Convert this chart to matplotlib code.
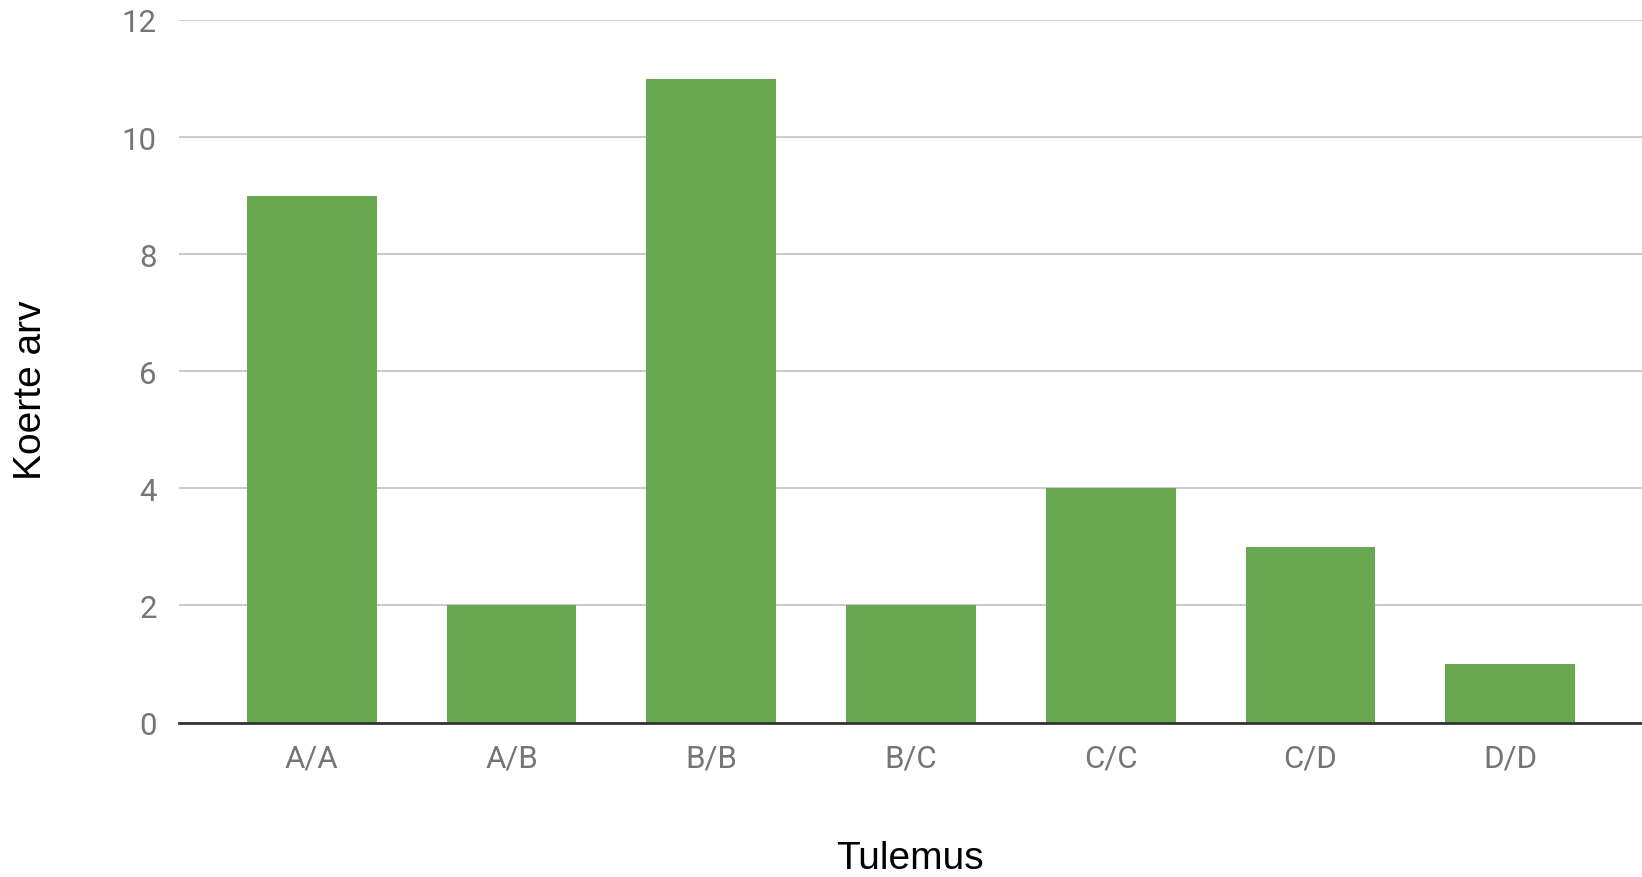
import matplotlib
matplotlib.use("Agg")
import matplotlib.pyplot as plt

categories = ["A/A", "A/B", "B/B", "B/C", "C/C", "C/D", "D/D"]
values = [9, 2, 11, 2, 4, 3, 1]
yticks = [0, 2, 4, 6, 8, 10, 12]

W, H = 1642, 878
fig = plt.figure(figsize=(W / 100, H / 100), dpi=100)
left, right = 179 / W, 1642 / W
bottom, top = 1 - 723.5 / H, 1 - 21 / H
ax = fig.add_axes([left, bottom, right - left, top - bottom])

x = range(len(categories))
ax.bar(x, values, width=0.65, color="#6aa84f", zorder=3)

ax.set_xlim(-0.665, len(categories) - 1 + 0.66)
ax.set_ylim(0, 12)
ax.set_yticks(yticks)
ax.set_xticks(list(x))
ax.set_xticklabels(categories)

for s in ["top", "right", "left"]:
    ax.spines[s].set_visible(False)
ax.spines["bottom"].set_color("#333333")
ax.spines["bottom"].set_linewidth(2)
ax.spines["bottom"].set_zorder(4)
ax.grid(axis="y", color="#cccccc", linewidth=1.5, zorder=0)
ax.tick_params(axis="both", length=0, labelsize=22.5, labelcolor="#757575")
ax.tick_params(axis="y", pad=16)
ax.tick_params(axis="x", pad=15)
for lab in ax.get_xticklabels() + ax.get_yticklabels():
    lab.set_fontfamily("Roboto")

fig.text(910 / W, 1 - 859 / H, "Tulemus", ha="center", va="center",
         fontsize=28, family="Liberation Sans", color="#000000")
fig.text(31 / W, 1 - 390 / H, "Koerte arv", ha="center", va="center",
         rotation=90, fontsize=28, family="Liberation Sans", color="#000000")

fig.savefig("out.png", dpi=100)
